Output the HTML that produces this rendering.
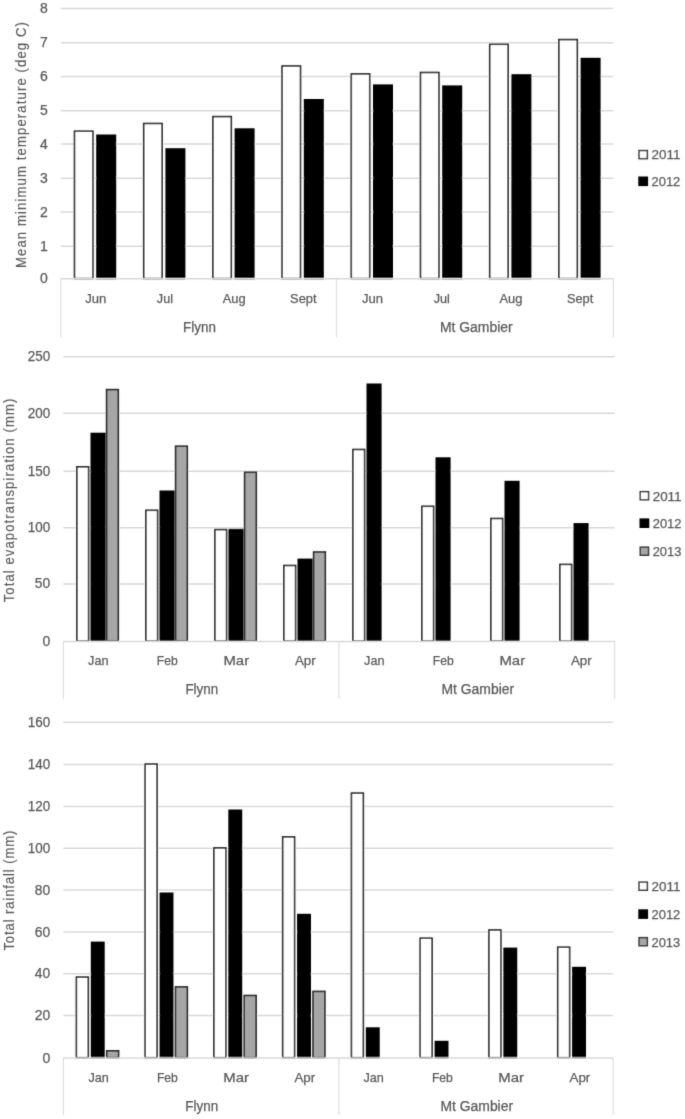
<!DOCTYPE html>
<html><head><meta charset="utf-8"><title>Charts</title>
<style>
html,body{margin:0;padding:0;background:#fff;}
body{width:685px;height:1119px;overflow:hidden;}
svg{display:block;}
text{font-family:"Liberation Sans", sans-serif;fill:#595959;stroke:#595959;stroke-width:0.25px;}
</style></head>
<body>
<svg width="685" height="1119" viewBox="0 0 685 1119">
<defs><filter id="bl" x="0" y="0" width="685" height="1119" filterUnits="userSpaceOnUse"><feConvolveMatrix order="3" kernelMatrix="0.0225 0.1500 0.0225 0.1500 1.0000 0.1500 0.0225 0.1500 0.0225" divisor="1.6900" preserveAlpha="false" edgeMode="duplicate"/></filter></defs>
<rect x="0" y="0" width="685" height="1119" fill="#ffffff"/>
<g filter="url(#bl)">
<line x1="60.80" y1="246.30" x2="613.30" y2="246.30" stroke="#d9d9d9" stroke-width="1.5"/>
<line x1="60.80" y1="211.90" x2="613.30" y2="211.90" stroke="#d9d9d9" stroke-width="1.5"/>
<line x1="60.80" y1="178.20" x2="613.30" y2="178.20" stroke="#d9d9d9" stroke-width="1.5"/>
<line x1="60.80" y1="143.90" x2="613.30" y2="143.90" stroke="#d9d9d9" stroke-width="1.5"/>
<line x1="60.80" y1="110.80" x2="613.30" y2="110.80" stroke="#d9d9d9" stroke-width="1.5"/>
<line x1="60.80" y1="76.50" x2="613.30" y2="76.50" stroke="#d9d9d9" stroke-width="1.5"/>
<line x1="60.80" y1="42.80" x2="613.30" y2="42.80" stroke="#d9d9d9" stroke-width="1.5"/>
<line x1="60.80" y1="8.40" x2="613.30" y2="8.40" stroke="#d9d9d9" stroke-width="1.5"/>
<text x="47.80" y="283.42" font-size="14" text-anchor="end">0</text>
<text x="47.80" y="250.92" font-size="14" text-anchor="end">1</text>
<text x="47.80" y="216.52" font-size="14" text-anchor="end">2</text>
<text x="47.80" y="182.82" font-size="14" text-anchor="end">3</text>
<text x="47.80" y="148.52" font-size="14" text-anchor="end">4</text>
<text x="47.80" y="115.42" font-size="14" text-anchor="end">5</text>
<text x="47.80" y="81.12" font-size="14" text-anchor="end">6</text>
<text x="47.80" y="47.42" font-size="14" text-anchor="end">7</text>
<text x="47.80" y="13.02" font-size="14" text-anchor="end">8</text>
<rect x="74.50" y="131.20" width="18.40" height="147.40" fill="#ffffff" stroke="#262626" stroke-width="1.6"/>
<rect x="97.00" y="135.30" width="18.40" height="143.30" fill="#000000" stroke="#000000" stroke-width="1.6"/>
<rect x="143.70" y="123.50" width="18.40" height="155.10" fill="#ffffff" stroke="#262626" stroke-width="1.6"/>
<rect x="166.20" y="149.00" width="18.40" height="129.60" fill="#000000" stroke="#000000" stroke-width="1.6"/>
<rect x="212.90" y="116.60" width="18.40" height="162.00" fill="#ffffff" stroke="#262626" stroke-width="1.6"/>
<rect x="235.40" y="129.10" width="18.40" height="149.50" fill="#000000" stroke="#000000" stroke-width="1.6"/>
<rect x="282.10" y="66.00" width="18.40" height="212.60" fill="#ffffff" stroke="#262626" stroke-width="1.6"/>
<rect x="304.60" y="99.80" width="18.40" height="178.80" fill="#000000" stroke="#000000" stroke-width="1.6"/>
<rect x="351.30" y="73.90" width="18.40" height="204.70" fill="#ffffff" stroke="#262626" stroke-width="1.6"/>
<rect x="373.80" y="85.20" width="18.40" height="193.40" fill="#000000" stroke="#000000" stroke-width="1.6"/>
<rect x="420.50" y="72.50" width="18.40" height="206.10" fill="#ffffff" stroke="#262626" stroke-width="1.6"/>
<rect x="443.00" y="86.20" width="18.40" height="192.40" fill="#000000" stroke="#000000" stroke-width="1.6"/>
<rect x="489.70" y="44.30" width="18.40" height="234.30" fill="#ffffff" stroke="#262626" stroke-width="1.6"/>
<rect x="512.20" y="75.00" width="18.40" height="203.60" fill="#000000" stroke="#000000" stroke-width="1.6"/>
<rect x="558.90" y="39.60" width="18.40" height="239.00" fill="#ffffff" stroke="#262626" stroke-width="1.6"/>
<rect x="581.40" y="58.60" width="18.40" height="220.00" fill="#000000" stroke="#000000" stroke-width="1.6"/>
<line x1="60.80" y1="278.80" x2="613.30" y2="278.80" stroke="#d9d9d9" stroke-width="1.5"/>
<line x1="60.80" y1="278.80" x2="60.80" y2="337.30" stroke="#d9d9d9" stroke-width="1"/>
<line x1="336.40" y1="278.80" x2="336.40" y2="337.30" stroke="#d9d9d9" stroke-width="1"/>
<line x1="613.30" y1="278.80" x2="613.30" y2="337.30" stroke="#d9d9d9" stroke-width="1"/>
<text x="95.70" y="302.80" font-size="13.5" text-anchor="middle" textLength="21.00" lengthAdjust="spacingAndGlyphs">Jun</text>
<text x="164.90" y="302.80" font-size="13.5" text-anchor="middle" textLength="16.10" lengthAdjust="spacingAndGlyphs">Jul</text>
<text x="234.10" y="302.80" font-size="13.5" text-anchor="middle" textLength="22.90" lengthAdjust="spacingAndGlyphs">Aug</text>
<text x="303.30" y="302.80" font-size="13.5" text-anchor="middle" textLength="26.40" lengthAdjust="spacingAndGlyphs">Sept</text>
<text x="372.50" y="302.80" font-size="13.5" text-anchor="middle" textLength="21.00" lengthAdjust="spacingAndGlyphs">Jun</text>
<text x="441.70" y="302.80" font-size="13.5" text-anchor="middle" textLength="16.10" lengthAdjust="spacingAndGlyphs">Jul</text>
<text x="510.90" y="302.80" font-size="13.5" text-anchor="middle" textLength="22.90" lengthAdjust="spacingAndGlyphs">Aug</text>
<text x="580.10" y="302.80" font-size="13.5" text-anchor="middle" textLength="26.40" lengthAdjust="spacingAndGlyphs">Sept</text>
<text x="199.50" y="331.70" font-size="14" text-anchor="middle" textLength="32.80" lengthAdjust="spacingAndGlyphs">Flynn</text>
<text x="476.30" y="331.70" font-size="14" text-anchor="middle" textLength="72.60" lengthAdjust="spacingAndGlyphs">Mt Gambier</text>
<text x="0" y="0" font-size="14.6" style="stroke-width:0.15px" text-anchor="middle" textLength="273.33" lengthAdjust="spacing" transform="translate(26.0,145.0) rotate(-90) scale(0.9,1)">Mean minimum temperature (deg C)</text>
<rect x="639.05" y="150.55" width="8.30" height="8.10" fill="#ffffff" stroke="#3a3a3a" stroke-width="1.5"/>
<text x="651.50" y="159.40" font-size="13.5" text-anchor="start" textLength="28.85" lengthAdjust="spacingAndGlyphs">2011</text>
<rect x="639.05" y="177.25" width="8.30" height="8.10" fill="#000000" stroke="#000000" stroke-width="1.5"/>
<text x="651.50" y="186.10" font-size="13.5" text-anchor="start" textLength="28.80" lengthAdjust="spacingAndGlyphs">2012</text>
<line x1="63.40" y1="584.10" x2="614.70" y2="584.10" stroke="#d9d9d9" stroke-width="1.5"/>
<line x1="63.40" y1="527.80" x2="614.70" y2="527.80" stroke="#d9d9d9" stroke-width="1.5"/>
<line x1="63.40" y1="471.30" x2="614.70" y2="471.30" stroke="#d9d9d9" stroke-width="1.5"/>
<line x1="63.40" y1="413.30" x2="614.70" y2="413.30" stroke="#d9d9d9" stroke-width="1.5"/>
<line x1="63.40" y1="356.70" x2="614.70" y2="356.70" stroke="#d9d9d9" stroke-width="1.5"/>
<text x="50.20" y="645.67" font-size="14" text-anchor="end">0</text>
<text x="50.20" y="588.37" font-size="14" text-anchor="end" textLength="15.40" lengthAdjust="spacingAndGlyphs">50</text>
<text x="50.20" y="532.07" font-size="14" text-anchor="end" textLength="22.40" lengthAdjust="spacingAndGlyphs">100</text>
<text x="50.20" y="475.57" font-size="14" text-anchor="end" textLength="22.40" lengthAdjust="spacingAndGlyphs">150</text>
<text x="50.20" y="417.57" font-size="14" text-anchor="end" textLength="22.40" lengthAdjust="spacingAndGlyphs">200</text>
<text x="50.20" y="360.97" font-size="14" text-anchor="end" textLength="22.40" lengthAdjust="spacingAndGlyphs">250</text>
<rect x="76.90" y="466.80" width="11.70" height="174.40" fill="#ffffff" stroke="#262626" stroke-width="1.6"/>
<rect x="91.30" y="433.50" width="13.50" height="207.70" fill="#000000" stroke="#000000" stroke-width="1.6"/>
<rect x="106.60" y="389.60" width="11.70" height="251.60" fill="#a6a6a6" stroke="#262626" stroke-width="1.6"/>
<rect x="145.90" y="510.30" width="11.70" height="130.90" fill="#ffffff" stroke="#262626" stroke-width="1.6"/>
<rect x="160.30" y="491.30" width="13.50" height="149.90" fill="#000000" stroke="#000000" stroke-width="1.6"/>
<rect x="175.60" y="446.20" width="11.70" height="195.00" fill="#a6a6a6" stroke="#262626" stroke-width="1.6"/>
<rect x="214.90" y="529.60" width="11.70" height="111.60" fill="#ffffff" stroke="#262626" stroke-width="1.6"/>
<rect x="229.30" y="529.60" width="13.50" height="111.60" fill="#000000" stroke="#000000" stroke-width="1.6"/>
<rect x="244.60" y="472.30" width="11.70" height="168.90" fill="#a6a6a6" stroke="#262626" stroke-width="1.6"/>
<rect x="283.90" y="565.50" width="11.70" height="75.70" fill="#ffffff" stroke="#262626" stroke-width="1.6"/>
<rect x="298.30" y="559.40" width="13.50" height="81.80" fill="#000000" stroke="#000000" stroke-width="1.6"/>
<rect x="313.60" y="552.00" width="11.70" height="89.20" fill="#a6a6a6" stroke="#262626" stroke-width="1.6"/>
<rect x="352.90" y="449.50" width="11.70" height="191.70" fill="#ffffff" stroke="#262626" stroke-width="1.6"/>
<rect x="367.30" y="384.30" width="13.50" height="256.90" fill="#000000" stroke="#000000" stroke-width="1.6"/>
<rect x="421.90" y="506.30" width="11.70" height="134.90" fill="#ffffff" stroke="#262626" stroke-width="1.6"/>
<rect x="436.30" y="458.10" width="13.50" height="183.10" fill="#000000" stroke="#000000" stroke-width="1.6"/>
<rect x="490.90" y="518.50" width="11.70" height="122.70" fill="#ffffff" stroke="#262626" stroke-width="1.6"/>
<rect x="505.30" y="481.60" width="13.50" height="159.60" fill="#000000" stroke="#000000" stroke-width="1.6"/>
<rect x="559.90" y="564.40" width="11.70" height="76.80" fill="#ffffff" stroke="#262626" stroke-width="1.6"/>
<rect x="574.30" y="523.90" width="13.50" height="117.30" fill="#000000" stroke="#000000" stroke-width="1.6"/>
<line x1="63.40" y1="641.40" x2="614.70" y2="641.40" stroke="#d9d9d9" stroke-width="1.5"/>
<line x1="63.40" y1="641.40" x2="63.40" y2="698.90" stroke="#d9d9d9" stroke-width="1"/>
<line x1="338.90" y1="641.40" x2="338.90" y2="698.90" stroke="#d9d9d9" stroke-width="1"/>
<line x1="614.70" y1="641.40" x2="614.70" y2="698.90" stroke="#d9d9d9" stroke-width="1"/>
<text x="98.30" y="665.20" font-size="13.5" text-anchor="middle" textLength="20.40" lengthAdjust="spacingAndGlyphs">Jan</text>
<text x="167.30" y="665.20" font-size="13.5" text-anchor="middle" textLength="20.90" lengthAdjust="spacingAndGlyphs">Feb</text>
<text x="236.30" y="665.20" font-size="13.5" text-anchor="middle" textLength="25.70" lengthAdjust="spacingAndGlyphs">Mar</text>
<text x="305.30" y="665.20" font-size="13.5" text-anchor="middle" textLength="20.80" lengthAdjust="spacingAndGlyphs">Apr</text>
<text x="374.30" y="665.20" font-size="13.5" text-anchor="middle" textLength="20.40" lengthAdjust="spacingAndGlyphs">Jan</text>
<text x="443.30" y="665.20" font-size="13.5" text-anchor="middle" textLength="20.90" lengthAdjust="spacingAndGlyphs">Feb</text>
<text x="512.30" y="665.20" font-size="13.5" text-anchor="middle" textLength="25.70" lengthAdjust="spacingAndGlyphs">Mar</text>
<text x="581.30" y="665.20" font-size="13.5" text-anchor="middle" textLength="20.80" lengthAdjust="spacingAndGlyphs">Apr</text>
<text x="201.80" y="693.60" font-size="14" text-anchor="middle" textLength="32.80" lengthAdjust="spacingAndGlyphs">Flynn</text>
<text x="477.80" y="693.60" font-size="14" text-anchor="middle" textLength="72.60" lengthAdjust="spacingAndGlyphs">Mt Gambier</text>
<text x="0" y="0" font-size="14.6" style="stroke-width:0.15px" text-anchor="middle" textLength="226.22" lengthAdjust="spacing" transform="translate(13.5,500.5) rotate(-90) scale(0.9,1)">Total evapotranspiration (mm)</text>
<rect x="640.25" y="491.65" width="8.30" height="8.10" fill="#ffffff" stroke="#3a3a3a" stroke-width="1.5"/>
<text x="652.70" y="500.50" font-size="13.5" text-anchor="start" textLength="28.85" lengthAdjust="spacingAndGlyphs">2011</text>
<rect x="640.25" y="519.15" width="8.30" height="8.10" fill="#000000" stroke="#000000" stroke-width="1.5"/>
<text x="652.70" y="528.00" font-size="13.5" text-anchor="start" textLength="28.80" lengthAdjust="spacingAndGlyphs">2012</text>
<rect x="640.25" y="547.15" width="8.30" height="8.10" fill="#a6a6a6" stroke="#3a3a3a" stroke-width="1.5"/>
<text x="652.70" y="556.00" font-size="13.5" text-anchor="start" textLength="28.75" lengthAdjust="spacingAndGlyphs">2013</text>
<line x1="63.40" y1="1015.60" x2="613.20" y2="1015.60" stroke="#d9d9d9" stroke-width="1.5"/>
<line x1="63.40" y1="973.80" x2="613.20" y2="973.80" stroke="#d9d9d9" stroke-width="1.5"/>
<line x1="63.40" y1="932.00" x2="613.20" y2="932.00" stroke="#d9d9d9" stroke-width="1.5"/>
<line x1="63.40" y1="890.00" x2="613.20" y2="890.00" stroke="#d9d9d9" stroke-width="1.5"/>
<line x1="63.40" y1="848.20" x2="613.20" y2="848.20" stroke="#d9d9d9" stroke-width="1.5"/>
<line x1="63.40" y1="806.40" x2="613.20" y2="806.40" stroke="#d9d9d9" stroke-width="1.5"/>
<line x1="63.40" y1="764.50" x2="613.20" y2="764.50" stroke="#d9d9d9" stroke-width="1.5"/>
<line x1="63.40" y1="722.20" x2="613.20" y2="722.20" stroke="#d9d9d9" stroke-width="1.5"/>
<text x="50.20" y="1062.52" font-size="14" text-anchor="end">0</text>
<text x="50.20" y="1020.22" font-size="14" text-anchor="end" textLength="15.40" lengthAdjust="spacingAndGlyphs">20</text>
<text x="50.20" y="978.42" font-size="14" text-anchor="end" textLength="15.40" lengthAdjust="spacingAndGlyphs">40</text>
<text x="50.20" y="936.62" font-size="14" text-anchor="end" textLength="15.40" lengthAdjust="spacingAndGlyphs">60</text>
<text x="50.20" y="894.62" font-size="14" text-anchor="end" textLength="15.40" lengthAdjust="spacingAndGlyphs">80</text>
<text x="50.20" y="852.82" font-size="14" text-anchor="end" textLength="22.40" lengthAdjust="spacingAndGlyphs">100</text>
<text x="50.20" y="811.02" font-size="14" text-anchor="end" textLength="22.40" lengthAdjust="spacingAndGlyphs">120</text>
<text x="50.20" y="769.12" font-size="14" text-anchor="end" textLength="22.40" lengthAdjust="spacingAndGlyphs">140</text>
<text x="50.20" y="726.82" font-size="14" text-anchor="end" textLength="22.40" lengthAdjust="spacingAndGlyphs">160</text>
<rect x="76.40" y="977.10" width="11.90" height="80.60" fill="#ffffff" stroke="#262626" stroke-width="1.6"/>
<rect x="91.60" y="942.40" width="12.30" height="115.30" fill="#000000" stroke="#000000" stroke-width="1.6"/>
<rect x="106.70" y="1050.80" width="11.90" height="6.90" fill="#a6a6a6" stroke="#262626" stroke-width="1.6"/>
<rect x="145.16" y="764.10" width="11.90" height="293.60" fill="#ffffff" stroke="#262626" stroke-width="1.6"/>
<rect x="160.36" y="893.30" width="12.30" height="164.40" fill="#000000" stroke="#000000" stroke-width="1.6"/>
<rect x="175.46" y="986.90" width="11.90" height="70.80" fill="#a6a6a6" stroke="#262626" stroke-width="1.6"/>
<rect x="213.92" y="847.90" width="11.90" height="209.80" fill="#ffffff" stroke="#262626" stroke-width="1.6"/>
<rect x="229.12" y="810.30" width="12.30" height="247.40" fill="#000000" stroke="#000000" stroke-width="1.6"/>
<rect x="244.22" y="995.50" width="11.90" height="62.20" fill="#a6a6a6" stroke="#262626" stroke-width="1.6"/>
<rect x="282.68" y="836.90" width="11.90" height="220.80" fill="#ffffff" stroke="#262626" stroke-width="1.6"/>
<rect x="297.88" y="914.60" width="12.30" height="143.10" fill="#000000" stroke="#000000" stroke-width="1.6"/>
<rect x="312.98" y="991.40" width="11.90" height="66.30" fill="#a6a6a6" stroke="#262626" stroke-width="1.6"/>
<rect x="351.44" y="793.10" width="11.90" height="264.60" fill="#ffffff" stroke="#262626" stroke-width="1.6"/>
<rect x="366.64" y="1028.10" width="12.30" height="29.60" fill="#000000" stroke="#000000" stroke-width="1.6"/>
<rect x="420.20" y="938.20" width="11.90" height="119.50" fill="#ffffff" stroke="#262626" stroke-width="1.6"/>
<rect x="435.40" y="1041.60" width="12.30" height="16.10" fill="#000000" stroke="#000000" stroke-width="1.6"/>
<rect x="488.96" y="930.00" width="11.90" height="127.70" fill="#ffffff" stroke="#262626" stroke-width="1.6"/>
<rect x="504.16" y="948.40" width="12.30" height="109.30" fill="#000000" stroke="#000000" stroke-width="1.6"/>
<rect x="557.72" y="947.20" width="11.90" height="110.50" fill="#ffffff" stroke="#262626" stroke-width="1.6"/>
<rect x="572.92" y="967.60" width="12.30" height="90.10" fill="#000000" stroke="#000000" stroke-width="1.6"/>
<line x1="63.40" y1="1057.90" x2="613.20" y2="1057.90" stroke="#d9d9d9" stroke-width="1.5"/>
<line x1="63.40" y1="1057.90" x2="63.40" y2="1115.10" stroke="#d9d9d9" stroke-width="1"/>
<line x1="338.90" y1="1057.90" x2="338.90" y2="1115.10" stroke="#d9d9d9" stroke-width="1"/>
<line x1="613.20" y1="1057.90" x2="613.20" y2="1115.10" stroke="#d9d9d9" stroke-width="1"/>
<text x="98.58" y="1082.20" font-size="13.5" text-anchor="middle" textLength="20.40" lengthAdjust="spacingAndGlyphs">Jan</text>
<text x="167.34" y="1082.20" font-size="13.5" text-anchor="middle" textLength="20.90" lengthAdjust="spacingAndGlyphs">Feb</text>
<text x="236.10" y="1082.20" font-size="13.5" text-anchor="middle" textLength="25.70" lengthAdjust="spacingAndGlyphs">Mar</text>
<text x="304.86" y="1082.20" font-size="13.5" text-anchor="middle" textLength="20.80" lengthAdjust="spacingAndGlyphs">Apr</text>
<text x="373.62" y="1082.20" font-size="13.5" text-anchor="middle" textLength="20.40" lengthAdjust="spacingAndGlyphs">Jan</text>
<text x="442.38" y="1082.20" font-size="13.5" text-anchor="middle" textLength="20.90" lengthAdjust="spacingAndGlyphs">Feb</text>
<text x="511.14" y="1082.20" font-size="13.5" text-anchor="middle" textLength="25.70" lengthAdjust="spacingAndGlyphs">Mar</text>
<text x="579.90" y="1082.20" font-size="13.5" text-anchor="middle" textLength="20.80" lengthAdjust="spacingAndGlyphs">Apr</text>
<text x="201.72" y="1110.90" font-size="14" text-anchor="middle" textLength="32.80" lengthAdjust="spacingAndGlyphs">Flynn</text>
<text x="476.76" y="1110.90" font-size="14" text-anchor="middle" textLength="72.60" lengthAdjust="spacingAndGlyphs">Mt Gambier</text>
<text x="0" y="0" font-size="14.6" style="stroke-width:0.15px" text-anchor="middle" textLength="133.33" lengthAdjust="spacing" transform="translate(13.8,890.6) rotate(-90) scale(0.9,1)">Total rainfall (mm)</text>
<rect x="639.05" y="882.15" width="8.30" height="8.10" fill="#ffffff" stroke="#3a3a3a" stroke-width="1.5"/>
<text x="651.50" y="891.00" font-size="13.5" text-anchor="start" textLength="28.85" lengthAdjust="spacingAndGlyphs">2011</text>
<rect x="639.05" y="910.05" width="8.30" height="8.10" fill="#000000" stroke="#000000" stroke-width="1.5"/>
<text x="651.50" y="918.90" font-size="13.5" text-anchor="start" textLength="28.80" lengthAdjust="spacingAndGlyphs">2012</text>
<rect x="639.05" y="937.65" width="8.30" height="8.10" fill="#a6a6a6" stroke="#3a3a3a" stroke-width="1.5"/>
<text x="651.50" y="946.50" font-size="13.5" text-anchor="start" textLength="28.75" lengthAdjust="spacingAndGlyphs">2013</text>
</g>
</svg>
</body></html>
